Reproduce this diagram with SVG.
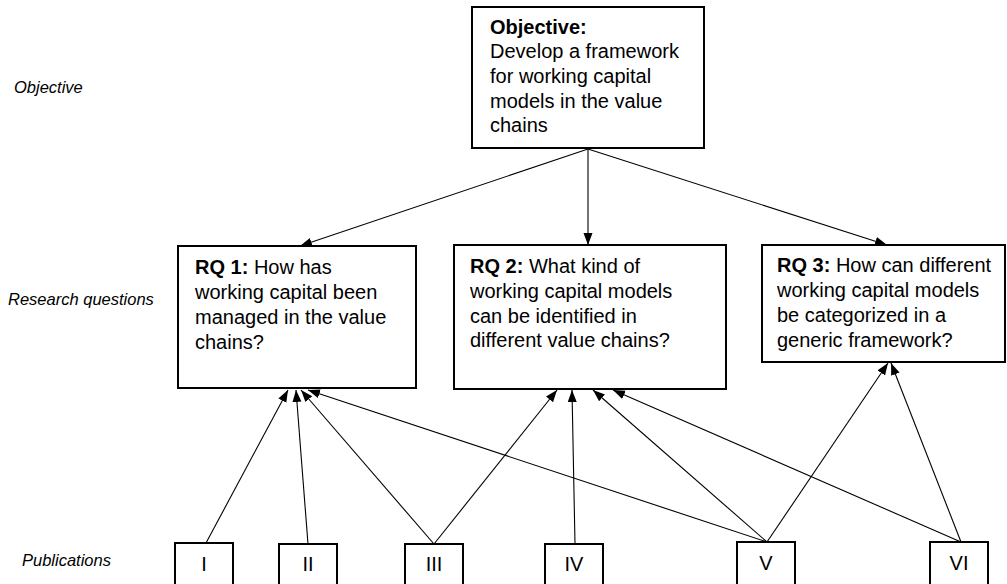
<svg xmlns="http://www.w3.org/2000/svg" width="1007" height="584" viewBox="0 0 1007 584">
  <style>
    .box { fill: #ffffff; stroke: #000000; stroke-width: 2; }
    .txt { font-family: "Liberation Sans", Arial, sans-serif; font-size: 20px; fill: #000000; }
    .b { font-weight: bold; }
    .lvl { font-family: "Liberation Sans", Arial, sans-serif; font-size: 16.5px; font-style: italic; fill: #000000; }
    .pub { font-family: "Liberation Sans", Arial, sans-serif; font-size: 20px; fill: #000000; text-anchor: middle; }
    .edge { stroke: #000000; stroke-width: 1.1; fill: none; marker-end: url(#arrow); }
  </style>
  <defs>
    <marker id="arrow" markerUnits="userSpaceOnUse" markerWidth="13" markerHeight="10" refX="12" refY="4.5" orient="auto">
      <path d="M0,0 L12,4.5 L0,9 z" fill="#000000"/>
    </marker>
  </defs>
  <rect width="1007" height="584" fill="#ffffff"/>

  <!-- level labels -->
  <g id="levels">
    <text class="lvl" x="14" y="93">Objective</text>
    <text class="lvl" x="8" y="305">Research questions</text>
    <text class="lvl" x="22" y="566">Publications</text>
  </g>

  <!-- connectors -->
  <g id="connectors">
    <line class="edge" x1="588" y1="149" x2="300" y2="246"/>
    <line class="edge" x1="588" y1="149" x2="588" y2="245"/>
    <line class="edge" x1="588" y1="149" x2="887" y2="245"/>

    <line class="edge" x1="206" y1="543" x2="288" y2="390"/>
    <line class="edge" x1="308" y1="544" x2="296" y2="390"/>
    <line class="edge" x1="434" y1="544" x2="301" y2="390"/>
    <line class="edge" x1="767" y1="542" x2="308" y2="390"/>

    <line class="edge" x1="434" y1="544" x2="557" y2="390"/>
    <line class="edge" x1="575" y1="544" x2="572" y2="390"/>
    <line class="edge" x1="767" y1="542" x2="593" y2="390"/>
    <line class="edge" x1="961" y1="542" x2="613" y2="390"/>

    <line class="edge" x1="767" y1="542" x2="888" y2="363"/>
    <line class="edge" x1="961" y1="542" x2="891" y2="363"/>
  </g>

  <!-- objective -->
  <g id="objective">
    <rect class="box" x="472" y="7" width="232" height="141"/>
    <text class="txt" x="490" y="34"><tspan class="b">Objective:</tspan></text>
    <text class="txt" x="490" y="58">Develop a framework</text>
    <text class="txt" x="490" y="83">for working capital</text>
    <text class="txt" x="490" y="108">models in the value</text>
    <text class="txt" x="490" y="132">chains</text>
  </g>

  <!-- research questions -->
  <g id="rq1">
    <rect class="box" x="178" y="246" width="238" height="142"/>
    <text class="txt" x="195" y="274"><tspan class="b">RQ 1:</tspan> How has</text>
    <text class="txt" x="195" y="299">working capital been</text>
    <text class="txt" x="195" y="324">managed in the value</text>
    <text class="txt" x="195" y="349">chains?</text>
  </g>
  <g id="rq2">
    <rect class="box" x="454" y="245" width="272" height="144"/>
    <text class="txt" x="470" y="273"><tspan class="b">RQ 2:</tspan> What kind of</text>
    <text class="txt" x="470" y="298">working capital models</text>
    <text class="txt" x="470" y="323">can be identified in</text>
    <text class="txt" x="470" y="347">different value chains?</text>
  </g>
  <g id="rq3">
    <rect class="box" x="762" y="245" width="243" height="117"/>
    <text class="txt" x="777" y="272"><tspan class="b">RQ 3:</tspan> How can different</text>
    <text class="txt" x="777" y="297">working capital models</text>
    <text class="txt" x="777" y="322">be categorized in a</text>
    <text class="txt" x="777" y="347">generic framework?</text>
  </g>

  <!-- publications -->
  <g id="pub-i">
    <rect class="box" x="175" y="543" width="58" height="45"/>
    <text class="pub" x="204" y="571">I</text>
  </g>
  <g id="pub-ii">
    <rect class="box" x="279" y="544" width="58" height="44"/>
    <text class="pub" x="308" y="571">II</text>
  </g>
  <g id="pub-iii">
    <rect class="box" x="405" y="544" width="58" height="44"/>
    <text class="pub" x="434" y="571">III</text>
  </g>
  <g id="pub-iv">
    <rect class="box" x="545" y="544" width="58" height="44"/>
    <text class="pub" x="574" y="571">IV</text>
  </g>
  <g id="pub-v">
    <rect class="box" x="737" y="542" width="58" height="46"/>
    <text class="pub" x="766" y="570">V</text>
  </g>
  <g id="pub-vi">
    <rect class="box" x="930" y="542" width="58" height="46"/>
    <text class="pub" x="959" y="570">VI</text>
  </g>
</svg>
